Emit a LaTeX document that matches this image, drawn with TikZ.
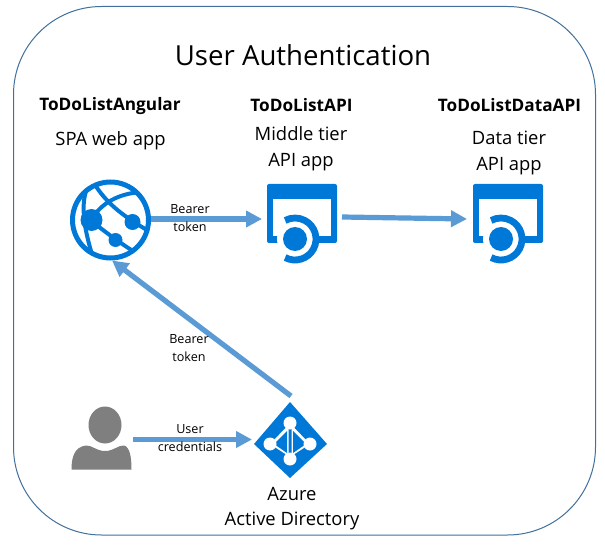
\documentclass[tikz,border=0pt]{standalone}
\usepackage{fontspec}
\setmainfont{Open Sans}
\usetikzlibrary{arrows.meta,calc}
\definecolor{azure}{HTML}{0078D7}
\definecolor{flow}{HTML}{5B9BD5}
\definecolor{person}{HTML}{7F7F7F}
\definecolor{frame}{HTML}{41719C}
\tikzset{
  x=1pt,y=-1pt,
  flowarrow/.style={draw=flow,line width=5.2pt,-{Triangle[length=16pt,width=16pt]}},
  lbl/.style={inner sep=0pt,anchor=base,font=\fontsize{18.4}{20}\selectfont,text=black},
  lblb/.style={lbl,font=\fontsize{17.2}{20}\selectfont\bfseries},
  small/.style={inner sep=0pt,anchor=base,font=\fontsize{12.6}{14}\selectfont,text=black},
  anchorbox/.style={inner sep=0pt,outer sep=0pt,draw=none},
}
\newcommand{\appicon}[2]{%
  \begin{scope}[shift={(#1,#2)}]
    \fill[azure,rounded corners=2pt] (-35,-34) rectangle (35,25);
    \fill[white] (-29,-19) rectangle (29,18);
    \fill[white] (-7,21) circle[radius=18];
    \fill[azure] (-7,21) circle[radius=12];
    \draw[azure,line width=6.8pt] (-7,21) ++(118:21) arc[start angle=118,end angle=-118,radius=21];
  \end{scope}}
\begin{document}
\begin{tikzpicture}
\useasboundingbox (0,0) rectangle (605,545);
\fill[white] (0,0) rectangle (605,545);
\draw[frame,line width=1pt,rounded corners=88pt] (13.5,6.5) rectangle (595.5,535);

% web icon
\begin{scope}[shift={(110.5,220)}]
  \draw[azure,line width=5pt] (0,0) circle[radius=38];
  \begin{scope}
    \clip (0,0) circle[radius=38];
    \draw[azure,line width=4pt] (-16,-36) .. controls (-6,-20) and (8,-6) .. (40,12);
    \draw[azure,line width=4pt] (-20,0) .. controls (-8,-18) and (8,-26) .. (30,-28);
    \draw[azure,line width=4pt] (-20,0) .. controls (-8,10) and (8,22) .. (24,32);
    \draw[azure,line width=4pt] (-24,-30) .. controls (-30,-14) and (-26,10) .. (-18,36);
  \end{scope}
  \fill[azure] (-19,0) circle[radius=11];
  \fill[azure] (22,2) circle[radius=8];
  \fill[azure] (5,20) circle[radius=7];
\end{scope}

\appicon{302}{218}
\appicon{508}{218}

% person
\fill[person] (105,425) ellipse[x radius=16.5,y radius=18.5];
\fill[person] (71.5,469.5) .. controls (71.5,458) and (74,447) .. (86,445.5)
  .. controls (92,445) and (96,451) .. (105,451)
  .. controls (114,451) and (118,445) .. (124,445.5)
  .. controls (130,447) and (131.5,458) .. (131.5,469.5) -- cycle;

% directory icon
\begin{scope}
  \fill[azure] (290,402) -- (327,444) -- (290,478) -- (254,444) -- cycle;
  \fill[white] (288.5,425) -- (288.5,456) -- (270,444) -- cycle;
  \fill[azure] (287,431) -- (287,453) -- (274,444) -- cycle;
  \fill[white] (291.5,425) -- (291.5,456) -- (310,444) -- cycle;
  \fill[azure] (293,431) -- (293,453) -- (306,444) -- cycle;
  \fill[white] (290,423) circle[radius=6.5];
  \fill[white] (270,444) circle[radius=6.5];
  \fill[white] (310,444) circle[radius=6.5];
  \fill[white] (290,459) circle[radius=6.5];
\end{scope}

% nodes used as connector ends
\node[anchorbox,circle,minimum size=81pt] (web) at (110.5,219) {};
\node[anchorbox,minimum width=80pt,minimum height=60pt] (api) at (302,217) {};
\node[anchorbox,minimum width=80pt,minimum height=60pt] (data) at (507,219) {};
\node[anchorbox,minimum width=38pt,minimum height=76pt] (aad) at (291,434) {};
\node[anchorbox,minimum width=61pt,minimum height=62pt] (user) at (102.5,439.5) {};
\coordinate (webin) at (112,260.5);
\coordinate (aadin) at (252,439.5);

\draw[flowarrow] (web.east) -- (web.east -| api.west);
\draw[flowarrow] (api.east) -- (data.west);
\draw[flowarrow] (aad.north) -- (webin);
\draw[flowarrow] (user.east) -- (aadin);

% texts
\node[inner sep=0pt,anchor=base,font=\fontsize{27.6}{30}\selectfont] (title) at (303,65.5) {User Authentication};
\node[lblb] (n1) at (110,111) {ToDoListAngular};
\node[lbl] (n2) at (110.5,146) {SPA web app};
\node[lblb] (n3) at (301.5,112) {ToDoListAPI};
\node[lbl] (n4) at (301,141) {Middle tier};
\node[lbl] (n5) at (301,167) {API app};
\node[lblb] (n6) at (509.5,112) {ToDoListDataAPI};
\node[lbl] (n7) at (509,144.5) {Data tier};
\node[lbl] (n8) at (509,171) {API app};
\node[lbl] (n9) at (292,500) {Azure};
\node[lbl] (n10) at (292,525) {Active Directory};
\node[small] (s1) at (190,214) {Bearer};
\node[small] (s2) at (190,232) {token};
\node[small] (s3) at (189,343.5) {Bearer};
\node[small] (s4) at (189,361) {token};
\node[small] (s5) at (190,433.5) {User};
\node[small] (s6) at (190,451.5) {credentials};
\end{tikzpicture}
\end{document}
